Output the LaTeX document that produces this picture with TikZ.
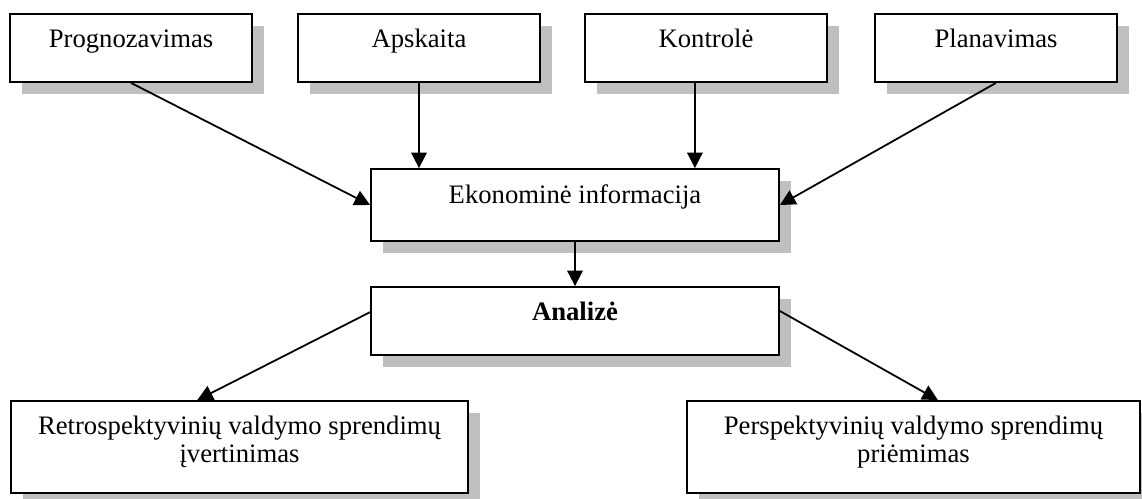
\documentclass[tikz,border=0pt]{standalone}
\usepackage{fontspec}
\setmainfont{Liberation Serif}
\usetikzlibrary{arrows.meta,shadows}

\tikzset{
  box/.style={draw,line width=.8pt,fill=white,inner sep=0pt,align=center,
    font=\fontsize{12}{12.6}\selectfont,
    drop shadow={shadow xshift=5.4pt,shadow yshift=-5.4pt,fill=black!25,opacity=1}},
  topbox/.style={box,minimum width=108.9pt,text height=14.85pt,text depth=15.75pt},
  lowbox/.style={box,text height=27.7pt,text depth=13.7pt},
  arr/.style={->,line width=.8pt}
}

\begin{document}
\begin{tikzpicture}[x=.45pt,y=-.45pt,>={Triangle[length=7pt,width=7pt]}]
 \useasboundingbox (0,0) rectangle (1142,499);
 % top row
 \node[topbox] (progn) at (131,48) {Prognozavimas};
 \node[topbox] (apsk) at (419,48) {Apskaita};
 \node[topbox] (kontr) at (706,48) {Kontrolė};
 \node[topbox] (plan) at (996,48) {Planavimas};
 % middle
 \node[box,minimum width=183.6pt,text height=15.3pt,text depth=17.1pt] (eko) at (575,205) {Ekonominė informacija};
 \node[topbox,minimum width=183.6pt,font=\fontsize{12}{12.6}\selectfont\bfseries] (anal) at (575,321) {Analizė};
 % bottom row
 \node[lowbox,minimum width=205.6pt] (retro) at (239.5,447) {Retrospektyvinių valdymo sprendimų\\įvertinimas};
 \node[lowbox,minimum width=203.9pt] (persp) at (913.5,447) {Perspektyvinių valdymo sprendimų\\priėmimas};
 % arrows
 \draw[arr] (progn.south) -- (eko.west);
 \draw[arr] (apsk.south) -- (apsk.south |- eko.north);
 \draw[arr] ([xshift=-5pt]kontr.south) -- ([xshift=-5pt]kontr.south |- eko.north);
 \draw[arr] (plan.south) -- (eko.east);
 \draw[arr] (eko.south) -- (anal.north);
 \draw[arr] ([yshift=4pt]anal.west) -- ([xshift=-19pt]retro.north);
 \draw[arr] ([yshift=4.5pt]anal.east) -- ([xshift=11pt]persp.north);
\end{tikzpicture}
\end{document}
